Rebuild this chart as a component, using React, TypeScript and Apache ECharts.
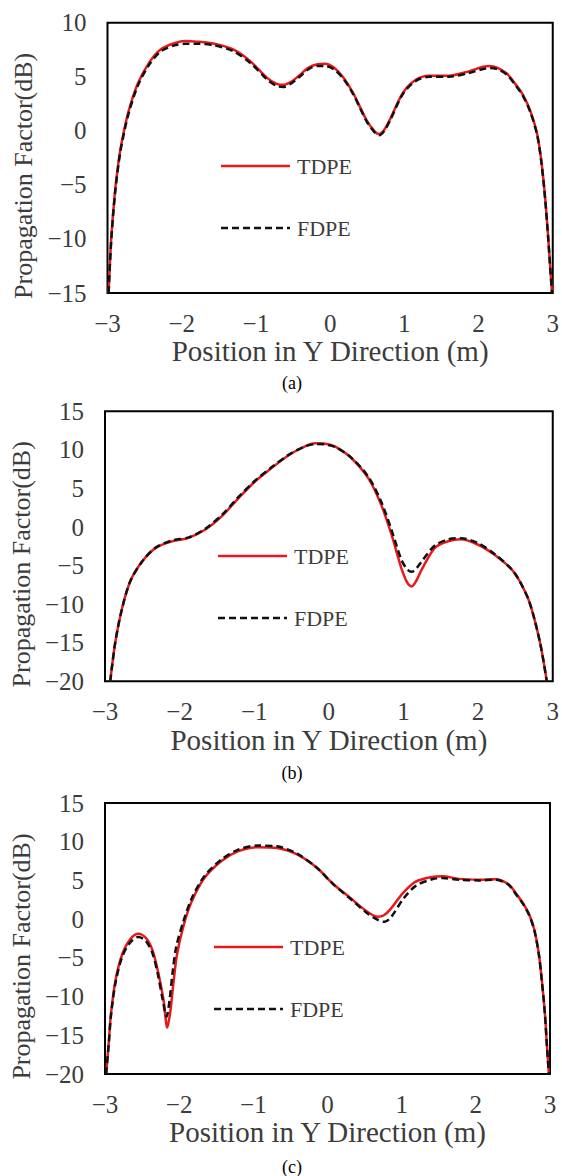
import React, { useEffect, useRef } from "react";
import * as echarts from "echarts";

type Pt = [number, number];

// x-axis ticks shared by all three panels
const xTicks = [-3, -2, -1, 0, 1, 2, 3];
const seriesNames = ["TDPE", "FDPE"];
const captions = ["(a)", "(b)", "(c)"];
const yRanges: [number, number][] = [
  [-15, 10],
  [-20, 15],
  [-20, 15],
];

// Panel (a)
const tdpeA: Pt[] = [
  [-2.985, -15], [-2.95, -10], [-2.9, -5.7], [-2.85, -2.8], [-2.81, -1.1], [-2.72, 1.7],
  [-2.59, 4.4], [-2.43, 6.4], [-2.28, 7.55], [-2.1, 8.1], [-1.95, 8.3], [-1.8, 8.25],
  [-1.56, 8.05], [-1.3, 7.5], [-1.07, 6.4], [-0.85, 4.9], [-0.72, 4.35], [-0.63, 4.25],
  [-0.52, 4.55], [-0.42, 5.1], [-0.29, 5.85], [-0.17, 6.15], [-0.07, 6.2], [0.05, 5.85],
  [0.18, 4.9], [0.31, 3.5], [0.49, 1.0], [0.6, -0.05], [0.66, -0.3], [0.73, 0.1],
  [0.81, 1.1], [0.98, 3.5], [1.15, 4.7], [1.33, 5.1], [1.6, 5.1], [1.87, 5.5],
  [2.05, 5.9], [2.15, 6.0], [2.25, 5.85], [2.38, 5.3], [2.5, 4.3], [2.6, 3.3],
  [2.7, 1.8], [2.79, -0.3], [2.85, -3], [2.9, -6.4], [2.94, -10], [2.97, -13], [2.99, -15],
];
const fdpeA: Pt[] = [
  [-2.985, -15], [-2.95, -10.2], [-2.9, -5.9], [-2.85, -3.0], [-2.81, -1.3], [-2.72, 1.5],
  [-2.59, 4.2], [-2.43, 6.2], [-2.28, 7.35], [-2.1, 7.9], [-1.95, 8.05], [-1.8, 8.05],
  [-1.56, 7.9], [-1.3, 7.35], [-1.07, 6.25], [-0.85, 4.75], [-0.72, 4.15], [-0.63, 4.05],
  [-0.52, 4.4], [-0.42, 4.95], [-0.29, 5.7], [-0.17, 6.0], [-0.07, 6.0], [0.05, 5.7],
  [0.18, 4.8], [0.31, 3.4], [0.49, 0.9], [0.6, -0.15], [0.66, -0.4], [0.73, 0.0],
  [0.81, 1.0], [0.98, 3.4], [1.15, 4.6], [1.33, 5.0], [1.6, 5.0], [1.87, 5.35],
  [2.05, 5.7], [2.15, 5.8], [2.25, 5.7], [2.38, 5.2], [2.5, 4.2], [2.6, 3.2],
  [2.7, 1.7], [2.79, -0.4], [2.85, -3.1], [2.9, -6.5], [2.94, -10.1], [2.97, -13.1], [2.99, -15],
];

// Panel (b)
const tdpeB: Pt[] = [
  [-2.93, -20], [-2.86, -14.8], [-2.77, -10.5], [-2.66, -7.0], [-2.5, -4.45], [-2.32, -2.7],
  [-2.1, -1.85], [-1.88, -1.4], [-1.66, -0.35], [-1.43, 1.45], [-1.21, 3.75], [-0.99, 5.9],
  [-0.76, 7.7], [-0.54, 9.3], [-0.32, 10.45], [-0.18, 10.85], [-0.05, 10.8], [0.08, 10.45],
  [0.3, 8.95], [0.53, 6.3], [0.7, 2.9], [0.84, -1.0], [0.97, -5.3], [1.05, -7.2],
  [1.11, -7.7], [1.17, -7.0], [1.24, -5.6], [1.42, -2.7], [1.6, -1.85], [1.77, -1.6],
  [2.0, -2.3], [2.22, -3.6], [2.44, -5.4], [2.55, -6.9], [2.69, -9.8], [2.83, -15], [2.92, -20],
];
const fdpeB: Pt[] = [
  [-2.93, -20], [-2.86, -14.8], [-2.77, -10.5], [-2.66, -7.0], [-2.5, -4.45], [-2.32, -2.65],
  [-2.1, -1.75], [-1.88, -1.35], [-1.66, -0.25], [-1.43, 1.6], [-1.21, 3.9], [-0.99, 6.0],
  [-0.76, 7.8], [-0.54, 9.35], [-0.32, 10.45], [-0.18, 10.75], [-0.05, 10.7], [0.08, 10.4],
  [0.3, 9.0], [0.53, 6.5], [0.7, 3.3], [0.84, -0.4], [0.97, -4.2], [1.05, -5.5],
  [1.11, -5.8], [1.17, -5.4], [1.24, -4.5], [1.42, -2.4], [1.6, -1.6], [1.77, -1.45],
  [2.0, -2.1], [2.22, -3.5], [2.44, -5.4], [2.55, -6.9], [2.69, -9.8], [2.83, -15], [2.92, -20],
];

// Panel (c)
const tdpeC: Pt[] = [
  [-2.985, -20], [-2.95, -16], [-2.92, -12.3], [-2.86, -8.0], [-2.77, -4.6], [-2.66, -2.6],
  [-2.55, -1.9], [-2.45, -2.4], [-2.36, -4.0], [-2.28, -7.0], [-2.21, -10.5], [-2.16, -14.0],
  [-2.12, -12.0], [-2.08, -8.5], [-2.03, -4.6], [-1.94, -0.8], [-1.83, 2.3], [-1.66, 5.3],
  [-1.43, 7.5], [-1.21, 8.75], [-0.94, 9.3], [-0.68, 9.2], [-0.41, 8.35], [-0.14, 6.6],
  [0.08, 4.5], [0.3, 2.8], [0.53, 1.0], [0.68, 0.3], [0.76, 0.5], [0.84, 1.2],
  [1.02, 3.4], [1.19, 4.85], [1.41, 5.45], [1.55, 5.55], [1.77, 5.2], [2.04, 5.1],
  [2.26, 5.15], [2.44, 4.5], [2.55, 3.2], [2.64, 2.0], [2.72, 0.6], [2.79, -1.4],
  [2.85, -4.5], [2.89, -7.9], [2.93, -12], [2.96, -16.5], [2.985, -20],
];
const fdpeC: Pt[] = [
  [-2.985, -20], [-2.95, -16.2], [-2.92, -12.5], [-2.86, -8.3], [-2.77, -4.9], [-2.66, -3.0],
  [-2.55, -2.3], [-2.45, -2.8], [-2.36, -4.4], [-2.29, -7.0], [-2.22, -10.5], [-2.17, -12.6],
  [-2.13, -10.5], [-2.09, -7.0], [-2.04, -3.6], [-1.94, -0.2], [-1.83, 2.7], [-1.66, 5.55],
  [-1.43, 7.7], [-1.21, 8.95], [-0.94, 9.5], [-0.68, 9.4], [-0.41, 8.45], [-0.14, 6.6],
  [0.08, 4.5], [0.3, 2.7], [0.53, 0.8], [0.68, -0.1], [0.77, -0.35], [0.86, 0.3],
  [1.02, 2.6], [1.19, 4.3], [1.41, 5.15], [1.55, 5.3], [1.77, 5.1], [2.04, 5.0],
  [2.26, 5.1], [2.44, 4.45], [2.55, 3.1], [2.64, 1.9], [2.72, 0.5], [2.79, -1.5],
  [2.85, -4.6], [2.89, -8.0], [2.93, -12.1], [2.96, -16.6], [2.985, -20],
];

const tdpeSets = [tdpeA, tdpeB, tdpeC];
const fdpeSets = [fdpeA, fdpeB, fdpeC];

// Layout of the three stacked panels (pixels)
const layout = [
  { left: 107.5, top: 22.7, width: 449, height: 270.3, yGap: 63, legX: 221, legY: 166, capY: 383 },
  { left: 104.7, top: 411.3, width: 449, height: 270, yGap: 64, legX: 218, legY: 556, capY: 773 },
  { left: 100.7, top: 803, width: 449.3, height: 271, yGap: 65, legX: 214, legY: 947, capY: 1167 },
];
const LEGEND_LINE = 69;
const LEGEND_STEP = 62;

const FONT = "Liberation Serif";
const TEXT = "#3c3c3c";
const RED = "#e8191b";
const BLACK = "#111111";
const DASH = [7, 4];

const minus = (v: number) => String(v).replace("-", "\u2212");

export default function App() {
  const ref = useRef<HTMLDivElement>(null);

  useEffect(() => {
    if (!ref.current) return;
    const chart = echarts.init(ref.current, undefined, { renderer: "svg" });

    const grid = layout.map((l) => ({
      left: l.left,
      top: l.top,
      width: l.width,
      height: l.height,
      show: true,
      borderColor: "#000",
      borderWidth: 2,
      backgroundColor: "transparent",
    }));

    const xAxis = layout.map((_, i) => ({
      type: "value",
      gridIndex: i,
      min: xTicks[0],
      max: xTicks[xTicks.length - 1],
      interval: 1,
      axisLine: { show: false },
      axisTick: { show: false },
      splitLine: { show: false },
      axisLabel: { fontSize: 25, margin: 18, color: TEXT, fontFamily: FONT, formatter: minus },
      name: "Position in Y Direction (m)",
      nameLocation: "middle",
      nameGap: 41,
      nameTextStyle: { fontSize: 29, color: TEXT, fontFamily: FONT },
    }));

    const yAxis = layout.map((l, i) => ({
      type: "value",
      gridIndex: i,
      min: yRanges[i][0],
      max: yRanges[i][1],
      interval: 5,
      axisLine: { show: false },
      axisTick: { show: false },
      splitLine: { show: false },
      axisLabel: { fontSize: 25, margin: 21, color: TEXT, fontFamily: FONT, formatter: minus },
      name: "Propagation Factor(dB)",
      nameLocation: "middle",
      nameGap: l.yGap,
      // the title sits a little below the plot's mid-height
      nameTextStyle: { fontSize: 26, color: TEXT, fontFamily: FONT, padding: [0, 36, 0, 0] },
    }));

    const series: any[] = [];
    layout.forEach((_, i) => {
      series.push({
        name: seriesNames[0],
        type: "line",
        xAxisIndex: i,
        yAxisIndex: i,
        data: tdpeSets[i],
        smooth: 0.3,
        symbol: "none",
        lineStyle: { color: RED, width: 2.5 },
      });
      series.push({
        name: seriesNames[1],
        type: "line",
        xAxisIndex: i,
        yAxisIndex: i,
        data: fdpeSets[i],
        smooth: 0.3,
        symbol: "none",
        lineStyle: { color: BLACK, width: 2.5, type: DASH },
      });
    });

    // In-plot key: a line sample and a label for each series, per panel
    const graphic: any[] = [];
    layout.forEach((l, i) => {
      seriesNames.forEach((name, k) => {
        const y = l.legY + k * LEGEND_STEP;
        graphic.push({
          type: "line",
          shape: { x1: l.legX, y1: y, x2: l.legX + LEGEND_LINE, y2: y },
          style:
            k === 0
              ? { stroke: RED, lineWidth: 2.5 }
              : { stroke: BLACK, lineWidth: 2.5, lineDash: DASH },
        });
        graphic.push({
          type: "text",
          x: l.legX + LEGEND_LINE + 7,
          y,
          style: {
            text: name,
            fill: TEXT,
            fontSize: 22,
            fontFamily: FONT,
            textAlign: "left",
            textVerticalAlign: "middle",
          },
        });
      });
      graphic.push({
        type: "text",
        x: 292,
        y: l.capY,
        style: {
          text: captions[i],
          fill: "#000",
          fontSize: 18,
          fontFamily: FONT,
          textAlign: "center",
          textVerticalAlign: "middle",
        },
      });
    });

    chart.setOption({
      animation: false,
      backgroundColor: "#fff",
      textStyle: { fontFamily: FONT },
      grid,
      xAxis,
      yAxis,
      series,
      graphic,
    });

    return () => chart.dispose();
  }, []);

  return (
    <div
      ref={ref}
      style={{ position: "absolute", left: 0, top: 0, width: 562, height: 1176 }}
    />
  );
}
